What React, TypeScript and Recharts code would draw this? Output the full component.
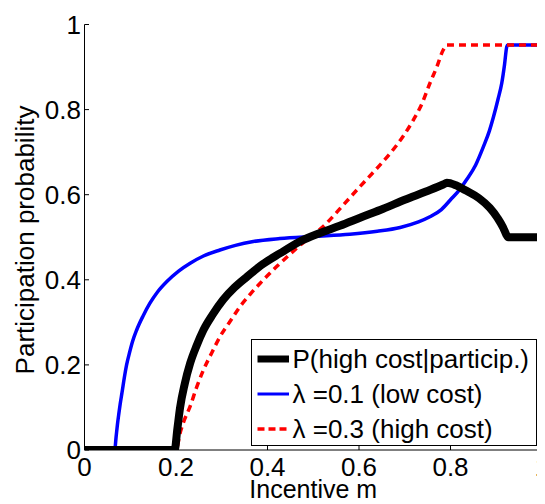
import React from 'react';
import { LineChart, Line, XAxis, YAxis } from 'recharts';

// lambda = 0.1 (low cost)
const lowCost = [
  [0, 0], [0.066, 0], [0.069, 0.03], [0.072, 0.06], [0.075, 0.085], [0.078, 0.108],
  [0.082, 0.135], [0.087, 0.17], [0.092, 0.2], [0.098, 0.227], [0.105, 0.255],
  [0.114, 0.282], [0.128, 0.315], [0.143, 0.345], [0.16, 0.372],
  [0.18, 0.396], [0.205, 0.42], [0.231, 0.439], [0.26, 0.456], [0.296, 0.47],
  [0.33, 0.481], [0.369, 0.49], [0.427, 0.497], [0.5, 0.502], [0.58, 0.507],
  [0.64, 0.514], [0.69, 0.523], [0.73, 0.536], [0.755, 0.548], [0.78, 0.565],
  [0.8, 0.588], [0.82, 0.612], [0.835, 0.635], [0.855, 0.67], [0.872, 0.713],
  [0.885, 0.75], [0.894, 0.783], [0.904, 0.825], [0.912, 0.862], [0.918, 0.905],
  [0.923, 0.948], [0.925, 0.952], [1, 0.952],
];

// lambda = 0.3 (high cost)
const highCost = [
  [0, 0], [0.2, 0], [0.209, 0.04], [0.218, 0.07], [0.23, 0.1], [0.245, 0.147],
  [0.26, 0.188], [0.278, 0.228], [0.296, 0.266], [0.318, 0.302], [0.34, 0.337],
  [0.362, 0.366], [0.384, 0.392], [0.42, 0.431], [0.47, 0.48], [0.529, 0.533],
  [0.565, 0.575], [0.602, 0.619], [0.635, 0.657], [0.668, 0.697], [0.695, 0.735],
  [0.719, 0.776], [0.738, 0.815], [0.755, 0.862], [0.77, 0.9], [0.784, 0.94],
  [0.792, 0.952], [1, 0.952],
];

// P(high cost | particip.)
const posterior = [
  [0, 0], [0.197, 0], [0.203, 0.05], [0.209, 0.1], [0.219, 0.155], [0.231, 0.204],
  [0.245, 0.245], [0.26, 0.282], [0.28, 0.318], [0.303, 0.353], [0.328, 0.382],
  [0.355, 0.407], [0.39, 0.437], [0.427, 0.462], [0.471, 0.49], [0.515, 0.51],
  [0.558, 0.527], [0.605, 0.547], [0.653, 0.567], [0.7, 0.588], [0.745, 0.607],
  [0.784, 0.624], [0.792, 0.628], [0.812, 0.622], [0.835, 0.609], [0.862, 0.592],
  [0.886, 0.569], [0.903, 0.545], [0.915, 0.523], [0.922, 0.506], [0.926, 0.5],
  [1, 0.5],
];

const xTicks = [0, 0.2, 0.4, 0.6, 0.8, 1];
const yTicks = [0, 0.2, 0.4, 0.6, 0.8, 1];

const toRows = (pts: number[][]) => pts.map(([x, y]) => ({ x, y }));

const FONT = '"Liberation Sans", Arial, Helvetica, sans-serif';
const fmt = (v: number) => (v === 0 || v === 1 ? String(v) : v.toFixed(1));

// MATLAB style: ticks point into the plot
const XTick = (props: any) => {
  const { x, y, payload } = props;
  return (
    <g>
      <line x1={x} y1={y} x2={x} y2={y - 4.5} stroke="#000" strokeWidth={1} />
      <text x={x} y={y + 26} textAnchor="middle" fontSize={26} fontFamily={FONT} fill="#000">
        {fmt(payload.value)}
      </text>
    </g>
  );
};

const YTick = (props: any) => {
  const { x, y, payload } = props;
  return (
    <g>
      <line x1={x} y1={y} x2={x + 4.5} y2={y} stroke="#000" strokeWidth={1} />
      <text x={x - 3.5} y={y + 9} textAnchor="end" fontSize={26} fontFamily={FONT} fill="#000">
        {fmt(payload.value)}
      </text>
    </g>
  );
};

const legendItems = [
  { label: 'P(high cost|particip.)', color: '#000000', width: 7, dash: undefined },
  { label: 'λ =0.1 (low cost)', color: '#0000ff', width: 3, dash: undefined },
  { label: 'λ =0.3 (high cost)', color: '#ff0000', width: 3.5, dash: '7 4' },
];

export default function App() {
  return (
    <div style={{ position: 'relative', width: 537, height: 496 }}>
      <LineChart width={537} height={496} margin={{ top: 16.5, right: 3, left: 0, bottom: 0 }}>
        <XAxis
          type="number"
          dataKey="x"
          domain={[0, 1]}
          ticks={xTicks}
          allowDataOverflow
          height={54}
          tickSize={0}
          tickMargin={0}
          tickLine={false}
          axisLine={{ stroke: '#000', strokeWidth: 1 }}
          tick={<XTick />}
          interval={0}
          label={(p: any) => {
            const vb = p.viewBox;
            return (
              <text x={vb.x + vb.width / 2} y={490} textAnchor="middle" fontSize={25} fontFamily={FONT} fill="#000">
                Incentive m
              </text>
            );
          }}
        />
        <YAxis
          type="number"
          dataKey="y"
          domain={[0, 1]}
          ticks={yTicks}
          allowDataOverflow
          width={76.5}
          tickSize={0}
          tickMargin={0}
          tickLine={false}
          axisLine={{ stroke: '#000', strokeWidth: 1 }}
          tick={<YTick />}
          interval={0}
          label={() => (
            <text
              x={25.5}
              y={232}
              transform="rotate(-90, 25.5, 232)"
              textAnchor="middle"
              fontSize={26}
              fontFamily={FONT}
              fill="#000"
            >
              Participation probability
            </text>
          )}
        />
        <Line
          data={toRows(lowCost)}
          dataKey="y"
          type="monotone"
          stroke="#0000ff"
          strokeWidth={3.5}
          dot={false}
          isAnimationActive={false}
        />
        <Line
          data={toRows(highCost)}
          dataKey="y"
          type="monotone"
          stroke="#ff0000"
          strokeWidth={3.5}
          strokeDasharray="7 5"
          dot={false}
          isAnimationActive={false}
        />
        <Line
          data={toRows(posterior)}
          dataKey="y"
          type="monotone"
          stroke="#000000"
          strokeWidth={8}
          strokeLinejoin="round"
          dot={false}
          isAnimationActive={false}
        />
      </LineChart>
      <div
        style={{
          position: 'absolute',
          left: 243,
          top: 331,
          width: 284,
          height: 105,
          border: '1.5px solid #000',
          background: '#fff',
          fontFamily: FONT,
          fontSize: 26,
        }}
      >
        {legendItems.map((it, i) => (
          <div key={it.label} style={{ position: 'absolute', left: 0, top: 19 + i * 35 - 17, height: 34, width: '100%' }}>
            <svg width={40} height={34} style={{ position: 'absolute', left: 0, top: 0 }}>
              <line
                x1={5.5}
                y1={17}
                x2={37}
                y2={17}
                stroke={it.color}
                strokeWidth={it.width}
                strokeDasharray={it.dash}
              />
            </svg>
            <span style={{ position: 'absolute', left: 40.5, top: 0, lineHeight: '34px', whiteSpace: 'nowrap' }}>
              {it.label}
            </span>
          </div>
        ))}
      </div>
    </div>
  );
}
